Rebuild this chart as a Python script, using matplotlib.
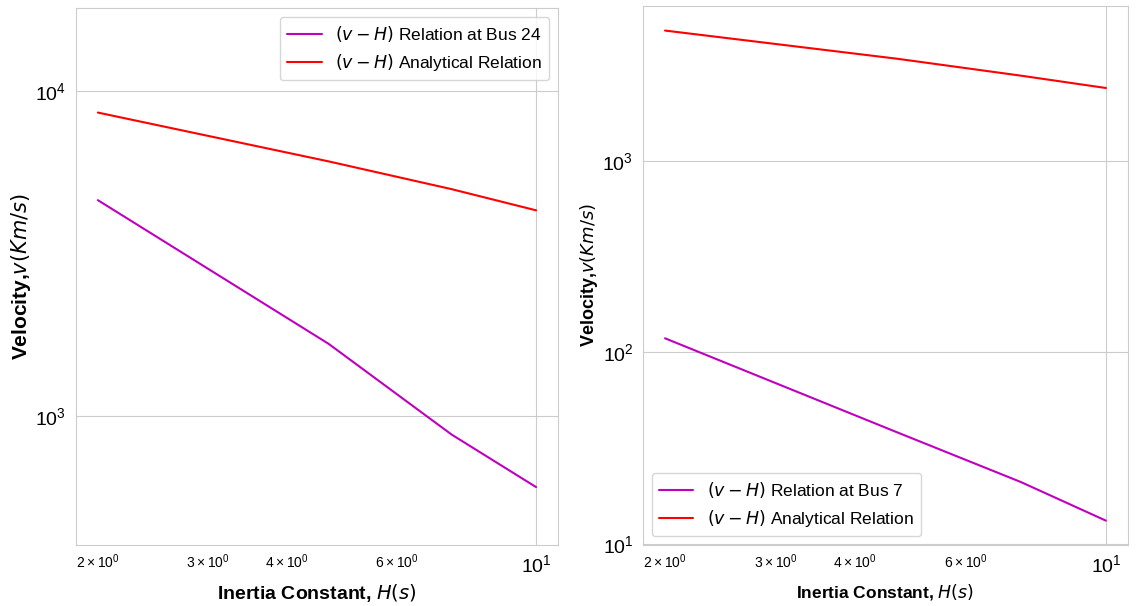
import matplotlib
matplotlib.use("Agg")
import matplotlib.pyplot as plt
import seaborn as sns

sns.set_style("whitegrid")
plt.rcParams['font.family'] = ['Liberation Sans', 'DejaVu Sans']
plt.rcParams['text.color'] = 'black'
plt.rcParams['axes.labelcolor'] = 'black'
plt.rcParams['xtick.color'] = 'black'
plt.rcParams['ytick.color'] = 'black'

# Data
H = [2.0, 4.667, 7.333, 10.0]
v_bus24 = [4610, 1665, 875, 603]
v_analytical_left = [8580, 6070, 4985, 4290]
v_bus7 = [118.4, 38.2, 21.0, 13.2]
v_analytical_right = [4800, 3420, 2790, 2405]

label_bus24 = r"$(v-H)$ Relation at Bus 24"
label_bus7 = r"$(v-H)$ Relation at Bus 7"
label_analytical = r"$(v-H)$ Analytical Relation"
xlabel = r"Inertia Constant, $H(s)$"
ylabel = r"Velocity,$v(Km/s)$"

fig = plt.figure(figsize=(11.36, 6.06), dpi=100)
ax1 = fig.add_axes([0.0669, 0.1007, 0.4243, 0.886])
ax2 = fig.add_axes([0.566, 0.1007, 0.4269, 0.8894])

ax1.plot(H, v_bus24, color='m', lw=1.5, label=label_bus24)
ax1.plot(H, v_analytical_left, color='r', lw=1.5, label=label_analytical)
ax1.set_xscale('log')
ax1.set_yscale('log')
ax1.set_ylim(400, 18000)
ax1.set_xlabel(xlabel, fontsize=14, fontweight='bold')
ax1.set_ylabel(ylabel, fontsize=15, fontweight='bold', labelpad=2)
ax1.tick_params(axis='both', which='major', labelsize=14)
ax1.tick_params(axis='both', which='minor', labelsize=10)
ax1.legend(loc='upper right', fontsize=12.5)

ax2.plot(H, v_bus7, color='m', lw=1.5, label=label_bus7)
ax2.plot(H, v_analytical_right, color='r', lw=1.5, label=label_analytical)
ax2.set_xscale('log')
ax2.set_yscale('log')
ax2.set_ylim(9.85, 6450)
ax2.set_xlabel(xlabel, fontsize=12.5, fontweight='bold')
ax2.set_ylabel(ylabel, fontsize=13, fontweight='bold', labelpad=2)
ax2.tick_params(axis='both', which='major', labelsize=14)
ax2.tick_params(axis='both', which='minor', labelsize=10)
ax2.legend(loc='lower left', fontsize=12.5)

fig.savefig("out.png", dpi=100)
